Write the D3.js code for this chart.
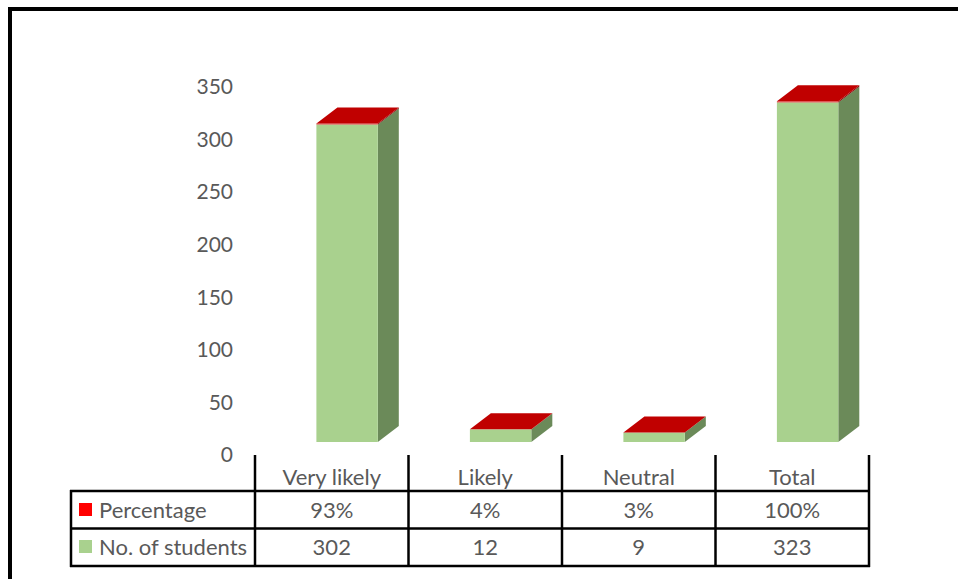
<!DOCTYPE html>
<html lang="en">
<head>
<meta charset="utf-8">
<title>Students chart</title>
<script src="https://d3js.org/d3.v7.min.js"></script>
<style>
  body { margin: 0; background: #fff; }
  svg { display: block; }
  text { font-family: Lato, "Liberation Sans", sans-serif; fill: #595959; }
</style>
</head>
<body>
<svg width="958" height="579"></svg>
<script>
var categories = ["Very likely", "Likely", "Neutral", "Total"];
var students = [302, 12, 9, 323];
var percentage = [0.93, 0.04, 0.03, 1.00];
var yTicks = [0, 50, 100, 150, 200, 250, 300, 350];
var seriesNames = ["Percentage", "No. of students"];

var svg = d3.select("svg");

var x = d3.scaleBand().domain(categories).range([255, 869]);
var y = d3.scaleLinear().domain([0, 350]).range([455, 87]);
var lift = 13, dx = 21, dy = -16;
var fy = function(v) { return y(v) - lift; };

// outer frame
svg.append("path")
  .attr("d", "M10,579V9H958")
  .attr("fill", "none").attr("stroke", "#000").attr("stroke-width", 4);

// y axis labels
svg.selectAll(".ytick").data(yTicks).enter().append("text")
  .attr("x", 233).attr("y", function(d) { return y(d); })
  .attr("dy", "0.35em").attr("text-anchor", "end")
  .style("font-size", "21px")
  .text(function(d) { return d; });

// 3D stacked columns
var stackData = categories.map(function(c, i) {
  return { cat: c, segs: [
    { v0: 0, v1: students[i], front: "#a9d18e", side: "#6b8a59", top: "#a9d18e" },
    { v0: students[i], v1: students[i] + percentage[i], front: "#e03030", side: "#8a0000", top: "#c00000" }
  ]};
});

var col = svg.selectAll(".col").data(stackData).enter().append("g").attr("class", "col");
col.each(function(d) {
  var g = d3.select(this);
  var bw = x.bandwidth() * 0.4;
  var x0 = x(d.cat) + x.bandwidth() * 0.4, x1 = x0 + bw;
  d.segs.forEach(function(s) {
    var yt = fy(s.v1), yb = fy(s.v0);
    g.append("path")
      .attr("d", "M" + x1 + "," + yb + "L" + (x1 + dx) + "," + (yb + dy) + "L" + (x1 + dx) + "," + (yt + dy) + "L" + x1 + "," + yt + "Z")
      .attr("fill", s.side);
    g.append("rect")
      .attr("x", x0).attr("y", yt).attr("width", bw).attr("height", Math.max(0, yb - yt))
      .attr("fill", s.front);
  });
  var last = d.segs[d.segs.length - 1], yt = fy(last.v1);
  g.append("path")
    .attr("d", "M" + x0 + "," + yt + "L" + x1 + "," + yt + "L" + (x1 + dx) + "," + (yt + dy) + "L" + (x0 + dx) + "," + (yt + dy) + "Z")
    .attr("fill", last.top);
});

// data table
var tbl = svg.append("g").attr("stroke", "#000").attr("stroke-width", 2.5);
var bounds = categories.map(function(c) { return x(c); }).concat([x.range()[1]]);
bounds.forEach(function(b) {
  tbl.append("line").attr("x1", b).attr("x2", b).attr("y1", 455).attr("y2", 567);
});
[491, 528.5, 566].forEach(function(h) {
  tbl.append("line").attr("x1", 70).attr("x2", 870).attr("y1", h).attr("y2", h);
});
tbl.append("line").attr("x1", 71).attr("x2", 71).attr("y1", 490).attr("y2", 567);

svg.selectAll(".cat").data(categories).enter().append("text")
  .attr("x", function(d) { return x(d) + x.bandwidth() / 2; })
  .attr("y", 485).attr("text-anchor", "middle")
  .style("font-size", "22px")
  .text(function(d) { return d; });

var fmtPct = d3.format(".0%");
var rows = [
  { name: seriesNames[0], color: "#ff0000", y: 510, vals: percentage.map(fmtPct) },
  { name: seriesNames[1], color: "#a9d18e", y: 547, vals: students.map(String) }
];
rows.forEach(function(r) {
  svg.append("rect").attr("x", 79).attr("y", r.y - 7).attr("width", 13).attr("height", 13).attr("fill", r.color);
  svg.append("text").attr("x", 99).attr("y", r.y).attr("dy", "0.35em")
    .style("font-size", "22px").text(r.name);
  svg.selectAll(null).data(r.vals).enter().append("text")
    .attr("x", function(d, i) { return x(categories[i]) + x.bandwidth() / 2; })
    .attr("y", r.y).attr("dy", "0.35em").attr("text-anchor", "middle")
    .style("font-size", "22px")
    .text(function(d) { return d; });
});
</script>
</body>
</html>
